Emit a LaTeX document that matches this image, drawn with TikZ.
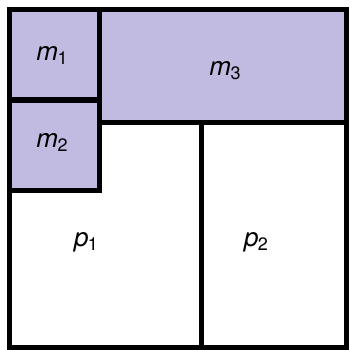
\documentclass[tikz,border=0pt]{standalone}
\usepackage{fontspec}
\setmainfont{TeX Gyre Heros}
\usetikzlibrary{positioning}
\definecolor{FillMem}{RGB}{194,187,225}
\newcommand{\idx}[1]{\kern-0.5pt\raisebox{-4pt}{\fontsize{18}{20}\selectfont #1}}

\begin{document}
\begin{tikzpicture}[x=1pt, y=-1pt,
    cell/.style={draw=black, line width=5pt, line join=miter},
    mcell/.style={cell, fill=FillMem},
    lab/.style={font=\fontsize{26}{30}\selectfont, inner sep=0pt, anchor=base}
]
\useasboundingbox (0,0) rectangle (349,350);

%% ---- white base ----
\fill[white] (0,0) rectangle (349,350);

%% ---- p blocks ----
\draw[cell] (9,122) rectangle (201.5,347);
\draw[cell] (201.5,122) rectangle (346,347);

%% ---- m blocks ----
\draw[mcell] (99.5,10) rectangle (346,122);
\draw[mcell] (9,100) rectangle (99.5,190);
\draw[mcell] (9,10) rectangle (99.5,100);

%% ---- labels ----
\node[lab] (m1) at (52,61)   {\textit{m}\idx{1}};
\node[lab] (m2) at (52,147)  {\textit{m}\idx{2}};
\node[lab] (m3) at (225,76)  {\textit{m}\idx{3}};
\node[lab] (p1) at (86,246)  {\textit{p}\idx{1}};
\node[lab] (p2) at (256,246) {\textit{p}\idx{2}};

\end{tikzpicture}
\end{document}
